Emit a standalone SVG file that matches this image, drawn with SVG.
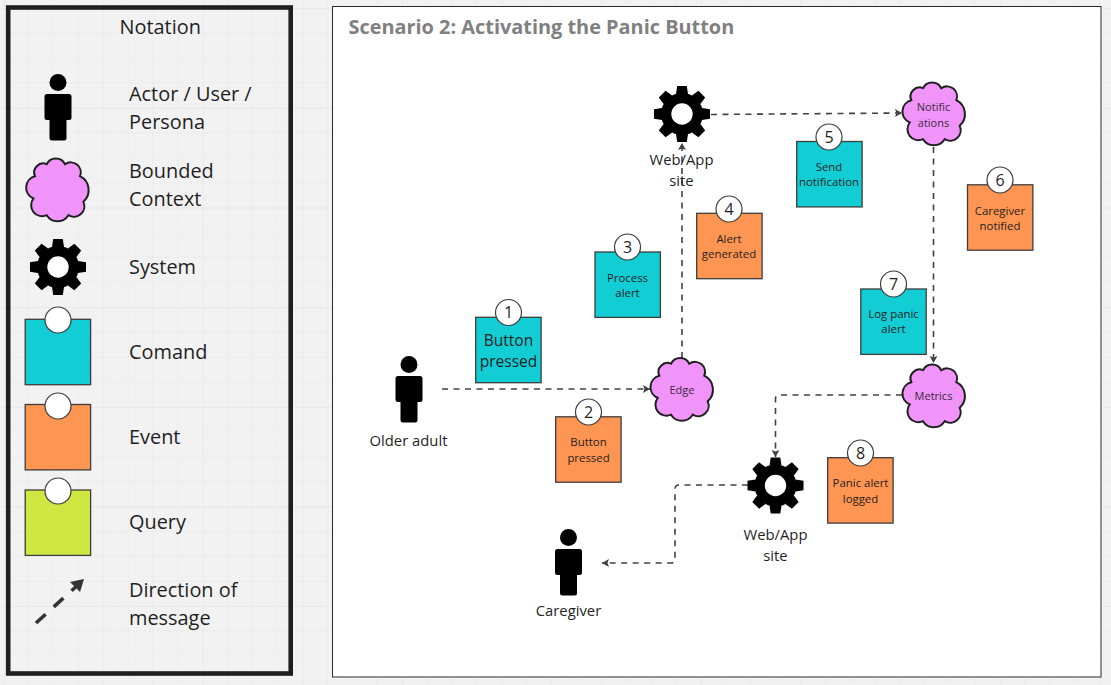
<svg xmlns="http://www.w3.org/2000/svg" width="1111" height="685" viewBox="0 0 1111 685">
<style>
text{font-family:"Open Sans","Noto Sans","Liberation Sans",sans-serif;fill:#1f1f1f}
.lg{font-size:19.900px}
.lbl{font-size:14.800px;text-anchor:middle}
.st{font-size:11.400px;text-anchor:middle}
.num{font-size:16px;text-anchor:middle}
.cl{font-size:11px;text-anchor:middle;fill:#3a2a3a}
.cmd{fill:#12cdd4}.evt{fill:#ff9552}.qry{fill:#cee741}
.note{stroke:#3d3d3d;stroke-width:1.300}
.pin{fill:#fff;stroke:#3d3d3d;stroke-width:1.200}
.con{fill:none;stroke:#414141;stroke-width:1.600;stroke-dasharray:6 5.500;marker-end:url(#arr)}
</style>
<defs>
<pattern id="grid" patternUnits="userSpaceOnUse" x="3.700" y="8.300" width="99.600" height="99.600">
<path d="M24.900 0V99.600M49.800 0V99.600M74.700 0V99.600M0 24.900H99.600M0 49.800H99.600M0 74.700H99.600" stroke="#ececec" stroke-width="1" fill="none"/>
<path d="M0 0V99.600M0 0H99.600" stroke="#e5e5e5" stroke-width="1.400" fill="none"/>
</pattern>
<marker id="arr" markerUnits="userSpaceOnUse" markerWidth="10" markerHeight="10" refX="7" refY="4" orient="auto"><path d="M0 0L7 4L0 8L1.500 4Z" fill="#414141"/></marker>
<g id="person"><circle r="8.500" fill="#000"/><rect x="-13.500" y="11.500" width="27" height="26" rx="2.500" fill="#000"/><rect x="-8.500" y="30" width="17" height="28" rx="2.500" fill="#000"/></g>
<path id="cloud" d="M-11 -25.300A10.200 10.200 0 0 1 7.300 -25.300A10 10 0 0 1 22.300 -13.300A15.600 15.600 0 0 1 25.700 12.300A10.500 10.500 0 0 1 10.700 25.700A12.800 12.800 0 0 1 -11 25.700A11 11 0 0 1 -24.300 9A11.800 11.800 0 0 1 -22.700 -13.300A9 9 0 0 1 -11 -25.300Z" fill="#f094fa" stroke="#1f1f1f" stroke-width="2"/>
<g id="gear"><circle r="21" fill="#000"/>
<path id="tooth" d="M-6 -20L-4.800 -28H4.800L6 -20Z" fill="#000"/>
<use href="#tooth" transform="rotate(45)"/><use href="#tooth" transform="rotate(90)"/><use href="#tooth" transform="rotate(135)"/><use href="#tooth" transform="rotate(180)"/><use href="#tooth" transform="rotate(225)"/><use href="#tooth" transform="rotate(270)"/><use href="#tooth" transform="rotate(315)"/>
<circle r="10.700" fill="#fff"/></g>
</defs>
<rect width="1111" height="685" fill="#f2f2f2"/>
<rect width="1111" height="685" fill="url(#grid)"/>

<g id="legend">
<rect x="8.200" y="7.500" width="282.500" height="666" fill="none" stroke="#1f1f1f" stroke-width="4.600"/>
<text class="lg" x="119.500" y="34">Notation</text>
<g id="legend-actor"><use href="#person" x="58" y="82.500"/><text class="lg" x="129" y="100.500">Actor / User /</text><text class="lg" x="129" y="129">Persona</text></g>
<g id="legend-context"><use href="#cloud" x="57.700" y="189.500"/><text class="lg" x="129" y="178">Bounded</text><text class="lg" x="129" y="206">Context</text></g>
<g id="legend-system"><use href="#gear" x="58" y="267"/><text class="lg" x="129" y="274">System</text></g>
<g id="legend-command"><rect class="cmd note" x="25.200" y="319.300" width="65.400" height="65.400"/><circle class="pin" cx="58" cy="320" r="13"/><text class="lg" x="129" y="359">Comand</text></g>
<g id="legend-event"><rect class="evt note" x="25.200" y="404.500" width="65.400" height="65.400"/><circle class="pin" cx="58" cy="406" r="13"/><text class="lg" x="129" y="444">Event</text></g>
<g id="legend-query"><rect class="qry note" x="25.200" y="490" width="65.400" height="65.400"/><circle class="pin" cx="58" cy="491" r="13"/><text class="lg" x="129" y="529">Query</text></g>
<g id="legend-direction"><path d="M36 623L80 583" fill="none" stroke="#333" stroke-width="3.600" stroke-dasharray="13 11"/><path d="M84 579L80 592L70 582Z" fill="#333"/><text class="lg" x="129" y="597">Direction of</text><text class="lg" x="129" y="625">message</text></g>
</g>

<rect id="panel" x="332.500" y="6.500" width="768.500" height="670.500" fill="#fff" stroke="#2b2b2b" stroke-width="1"/>
<text x="348.500" y="34" font-size="19.900" font-weight="700" style="fill:#808080">Scenario 2: Activating the Panic Button</text>

<g id="connectors">
<path class="con" d="M442 389H650"/>
<path class="con" d="M682 358V143"/>
<path class="con" d="M711 114.500L902 113"/>
<path class="con" d="M933.500 147V363"/>
<path class="con" d="M902 395H779Q775.500 395 775.500 399V457"/>
<path class="con" d="M748 485H679Q675 485 675 489V559Q675 563 671 563H602"/>
</g>

<g id="older-adult"><use href="#person" x="409" y="364.500"/><text class="lbl" x="408.500" y="446">Older adult</text></g>
<g id="caregiver"><use href="#person" x="568.500" y="537.500"/><text class="lbl" x="568.500" y="616">Caregiver</text></g>

<g id="system-1"><use href="#gear" x="682" y="114"/><text class="lbl" x="681.500" y="165">Web/App</text><text class="lbl" x="681.500" y="186">site</text></g>
<g id="system-2"><use href="#gear" x="775.500" y="485.500"/><text class="lbl" x="775.500" y="540">Web/App</text><text class="lbl" x="775.500" y="561">site</text></g>

<g id="ctx-edge"><use href="#cloud" x="682" y="389"/><text class="cl" x="682" y="394">Edge</text></g>
<g id="ctx-notifications"><use href="#cloud" x="934" y="113.500"/><text class="cl" x="933.500" y="111">Notific</text><text class="cl" x="933.500" y="127">ations</text></g>
<g id="ctx-metrics"><use href="#cloud" x="934" y="395.500"/><text class="cl" x="933.500" y="400">Metrics</text></g>

<g id="step-1"><rect class="cmd note" x="475.700" y="317.300" width="65.400" height="65.400"/><circle class="pin" cx="508.500" cy="312.500" r="13"/><text class="num" x="508.500" y="318">1</text><text x="508.500" y="346" font-size="15.500" text-anchor="middle">Button</text><text x="508.500" y="366.500" font-size="15.500" text-anchor="middle">pressed</text></g>
<g id="step-2"><rect class="evt note" x="555.700" y="416.800" width="65.400" height="65.400"/><circle class="pin" cx="588.500" cy="412" r="13"/><text class="num" x="588.500" y="418">2</text><text class="st" x="588.500" y="446">Button</text><text class="st" x="588.500" y="461.500">pressed</text></g>
<g id="step-3"><rect class="cmd note" x="595" y="252" width="65.400" height="65.400"/><circle class="pin" cx="627.500" cy="247" r="13"/><text class="num" x="627.500" y="253">3</text><text class="st" x="627.500" y="282">Process</text><text class="st" x="627.500" y="297">alert</text></g>
<g id="step-4"><rect class="evt note" x="696.700" y="213.300" width="65.400" height="65.400"/><circle class="pin" cx="729" cy="209" r="13"/><text class="num" x="729" y="215">4</text><text class="st" x="729" y="243">Alert</text><text class="st" x="729" y="258">generated</text></g>
<g id="step-5"><rect class="cmd note" x="796.700" y="141.500" width="65.400" height="65.400"/><circle class="pin" cx="829" cy="137" r="13"/><text class="num" x="829" y="143">5</text><text class="st" x="829" y="171">Send</text><text class="st" x="829" y="186">notification</text></g>
<g id="step-6"><rect class="evt note" x="967.500" y="184.800" width="65.400" height="65.400"/><circle class="pin" cx="1000" cy="180" r="13"/><text class="num" x="1000" y="186">6</text><text class="st" x="1000" y="214.500">Caregiver</text><text class="st" x="1000" y="229.500">notified</text></g>
<g id="step-7"><rect class="cmd note" x="860.800" y="289" width="65.400" height="65.400"/><circle class="pin" cx="893.500" cy="284" r="13"/><text class="num" x="893.500" y="290">7</text><text class="st" x="893.500" y="318">Log panic</text><text class="st" x="893.500" y="333">alert</text></g>
<g id="step-8"><rect class="evt note" x="827.700" y="457.700" width="65.400" height="65.400"/><circle class="pin" cx="860.500" cy="453" r="13"/><text class="num" x="860.500" y="459">8</text><text class="st" x="860.500" y="487">Panic alert</text><text class="st" x="860.500" y="502.500">logged</text></g>
</svg>
